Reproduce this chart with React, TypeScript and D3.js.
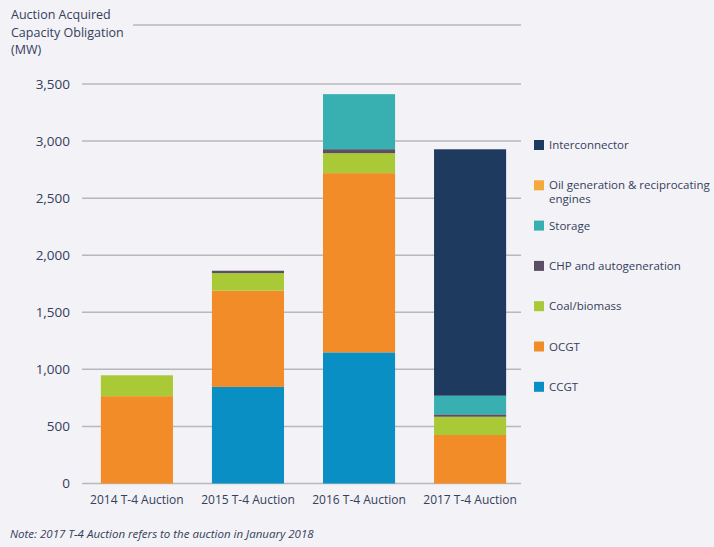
import React from "react";
import * as d3 from "d3";

const categories = ["2014 T-4 Auction", "2015 T-4 Auction", "2016 T-4 Auction", "2017 T-4 Auction"];
const seriesNames = ["CCGT", "OCGT", "Coal/biomass", "CHP and autogeneration", "Storage", "Oil generation & reciprocating engines", "Interconnector"];
const ccgt = [0, 846, 1149, 0];
const ocgt = [765, 843, 1570, 425];
const coal = [183, 154, 175, 160];
const chp = [0, 21, 35, 21];
const storage = [0, 0, 482, 163];
const oil = [0, 0, 0, 0];
const interconnector = [0, 0, 0, 2159];
const seriesColors = ["#0a8fc4", "#f28c28", "#a9c937", "#5c4e63", "#38b0b2", "#f5a93a", "#1f3a5f"];
const yTicks = [0, 500, 1000, 1500, 2000, 2500, 3000, 3500];
const legendOrder = ["Interconnector", "Oil generation & reciprocating engines", "Storage", "CHP and autogeneration", "Coal/biomass", "OCGT", "CCGT"];
const titleLines = ["Auction Acquired", "Capacity Obligation", "(MW)"];
const note = "Note: 2017 T-4 Auction refers to the auction in January 2018";

const W = 714, H = 547;
const font = "'Open Sans', 'Noto Sans', sans-serif";
const textColor = "#34405c";

export default function App() {
  const values = [ccgt, ocgt, coal, chp, storage, oil, interconnector];
  const rows = categories.map((c, i) => {
    const r: any = { cat: c };
    seriesNames.forEach((s, k) => (r[s] = values[k][i]));
    return r;
  });
  const stacked = d3.stack<any>().keys(seriesNames)(rows);
  const x = d3.scaleBand().domain(categories).range([82, 525]).paddingInner(0.351).paddingOuter(0.17);
  const y = d3.scaleLinear().domain([0, 3500]).range([483.5, 84]);
  const color = d3.scaleOrdinal<string, string>().domain(seriesNames).range(seriesColors);
  const fmt = d3.format(",");

  return (
    <svg width={W} height={H} style={{ position: "absolute", left: 0, top: 0, background: "#f3f2f6" }} fontFamily={font}>
      <rect x={0} y={0} width={W} height={H} fill="#f3f2f6" />
      {titleLines.map((t, i) => (
        <text key={t} x={11} y={19 + i * 17.5} fontSize={12.5} fill={textColor}>{t}</text>
      ))}
      <line x1={133} x2={521} y1={25} y2={25} stroke="#b8b8bc" strokeWidth={1.5} />
      {yTicks.map((t) => (
        <g key={t}>
          <line x1={82} x2={521} y1={y(t)} y2={y(t)} stroke="#b8b8bc" strokeWidth={1.5} />
          <text x={70} y={y(t)} dy="0.35em" textAnchor="end" fontSize={13.5} fill={textColor}>{fmt(t)}</text>
        </g>
      ))}
      {stacked.map((s) => (
        <g key={s.key} fill={color(s.key)}>
          {s.map((d, i) =>
            d[1] - d[0] > 0 ? (
              <rect key={i} x={x(categories[i])} width={x.bandwidth()} y={y(d[1])} height={y(d[0]) - y(d[1])} />
            ) : null
          )}
        </g>
      ))}
      {categories.map((c) => (
        <text key={c} x={(x(c) as number) + x.bandwidth() / 2} y={504} textAnchor="middle" fontSize={12} fill={textColor}>{c}</text>
      ))}
      {legendOrder.map((name, i) => {
        const yy = 145 + i * 40.3;
        const lines = name === "Oil generation & reciprocating engines" ? ["Oil generation & reciprocating", "engines"] : [name];
        return (
          <g key={name}>
            <rect x={534} y={yy - 5} width={10} height={10} fill={color(name)} />
            {lines.map((l, j) => (
              <text key={l} x={549} y={yy + j * 14} dy="0.35em" fontSize={11.5} fill={textColor}>{l}</text>
            ))}
          </g>
        );
      })}
      <text x={10} y={538} fontSize={11.5} fontStyle="italic" fill={textColor}>{note}</text>
    </svg>
  );
}
